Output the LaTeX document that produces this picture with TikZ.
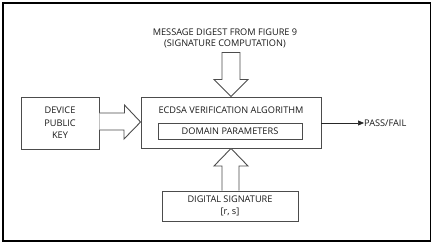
\documentclass[tikz,border=0pt]{standalone}
\usepackage{fontspec}
\setmainfont{Open Sans}
\usetikzlibrary{calc,arrows.meta}
\begin{document}
\begin{tikzpicture}[x=1pt,y=-1pt,
  box/.style={draw=black!70,line width=0.9pt,inner sep=0pt},
  lbl/.style={font=\fontsize{9.2}{11.5}\selectfont,align=center,text=black!90},
  blk/.style={draw=black!70,line width=0.9pt,fill=white,line join=miter}]
\useasboundingbox (0,0) rectangle (433,245);
\draw[line width=1.1pt] (3,3) rectangle (430.5,241);
\node[box,minimum width=78,minimum height=52] (dev) at (60,123) {};
\node[lbl,font=\fontsize{9.2}{12.5}\selectfont] at (dev.center) {DEVICE\\PUBLIC\\KEY};
\node[box,minimum width=180,minimum height=51] (ecdsa) at (231,122.5) {};
\node[lbl] (ectxt) at (231,110) {ECDSA VERIFICATION ALGORITHM};
\node[box,minimum width=144,minimum height=16] (dom) at (230,131) {};
\node[lbl] at (dom.center) {DOMAIN PARAMETERS};
\node[box,minimum width=136,minimum height=30] (sig) at (230,206) {};
\node[lbl] at (sig.center) {DIGITAL SIGNATURE\\{}[r, s]};
\node[lbl] (msg) at (225,38.5) {MESSAGE DIGEST FROM FIGURE 9\\(SIGNATURE COMPUTATION)};
\node[lbl,anchor=west,inner sep=0pt] (pf) at (364,123) {PASS/FAIL};
% top block arrow
\draw[blk] (ecdsa.north -| 231,0) -- ++(-17,-17) -- ++(8,0) -- ++(0,-27) -- ++(18,0) -- ++(0,27) -- ++(8,0) -- cycle;
% left block arrow
\draw[blk] (dev.east |- 0,113) -- ++(25,0) -- ++(0,-8) -- (ecdsa.west |- 0,122) -- (124,139) -- ++(0,-9) -- (dev.east |- 0,130);
% bottom block arrow
\draw[blk] (222,0 |- sig.north) -- (222,166) -- (214,166) -- (ecdsa.south -| 231,0) -- (248,166) -- (239,166) -- (239,0 |- sig.north);
% pass/fail
\draw[black!85,line width=0.7pt,-{Triangle[length=6pt,width=5pt]}] (ecdsa.east |- 0,123) -- (pf.west);
\end{tikzpicture}
\end{document}
